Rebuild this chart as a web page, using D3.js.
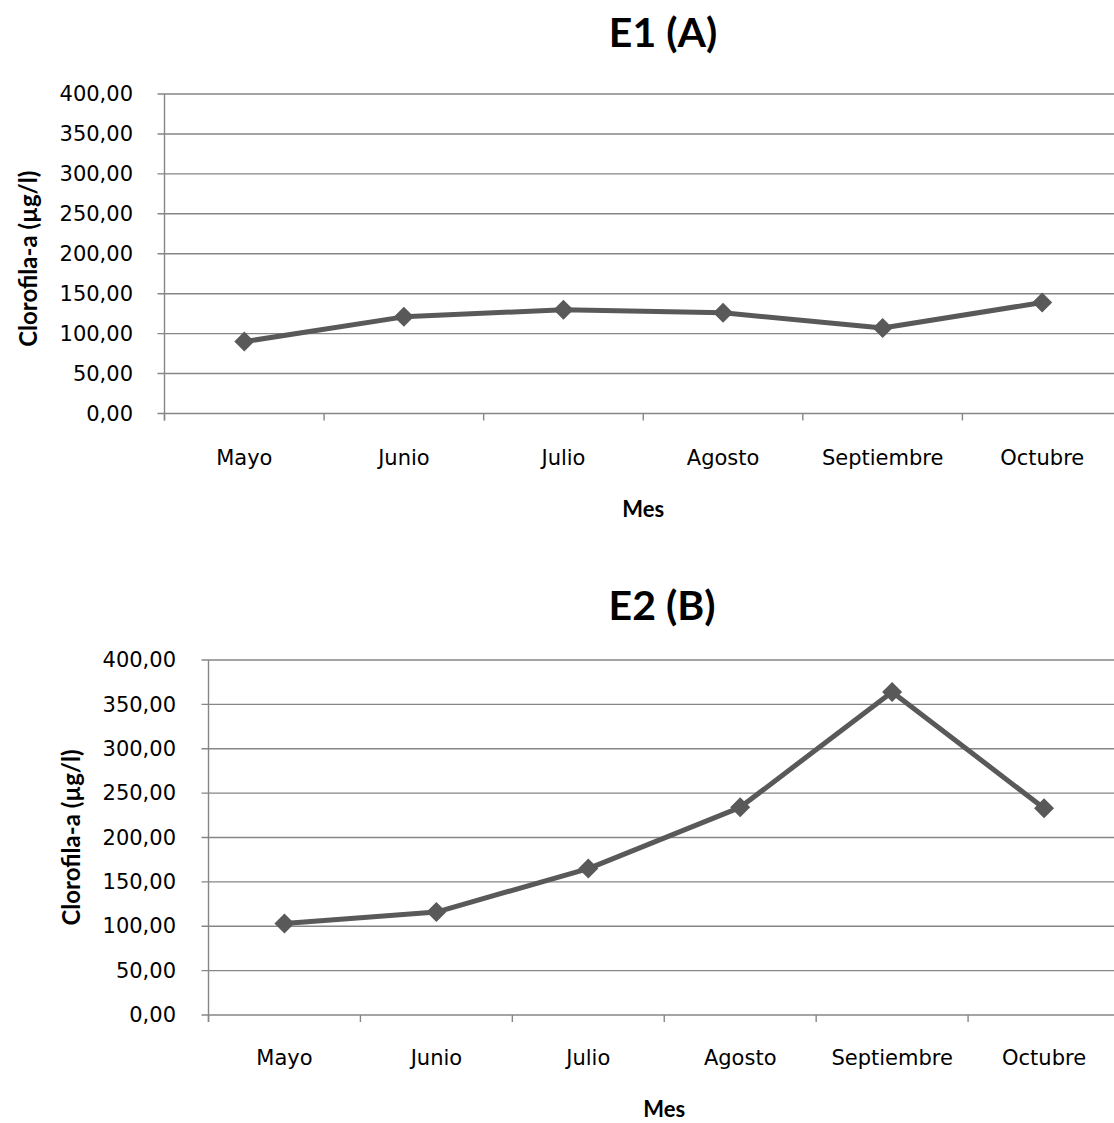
<!DOCTYPE html>
<html><head><meta charset="utf-8">
<script src="https://cdn.jsdelivr.net/npm/d3@7"></script>
<style>
html,body{margin:0;padding:0;background:#fff;}
svg{display:block;font-family:Lato,"Open Sans",sans-serif;}
</style></head>
<body>
<svg id="c" width="1114" height="1123"></svg>
<script>
const months = ["Mayo","Junio","Julio","Agosto","Septiembre","Octubre"];
const e1Values = [90, 121, 130, 126, 107, 139];
const e2Values = [103, 116, 165, 234, 364, 233];
const yTicks = [0, 50, 100, 150, 200, 250, 300, 350, 400];
const titles = ["E1 (A)", "E2 (B)"];
const yLabel = "Clorofila-a (µg/l)";
const xLabel = "Mes";

const svg = d3.select("#c");
const fmt = v => d3.format(".2f")(v).replace(".", ",");
const tickFont = "'DejaVu Sans', sans-serif";

function drawChart(cfg, values, title) {
  const g = svg.append("g");
  const x = d3.scaleBand().domain(months).range([cfg.left, cfg.right]);
  const y = d3.scaleLinear().domain([0, 400]).range([cfg.bottom, cfg.top]);

  // gridlines
  g.append("g").selectAll("line").data(yTicks).join("line")
    .attr("x1", cfg.left - 7).attr("x2", cfg.right)
    .attr("y1", d => y(d)).attr("y2", d => y(d))
    .attr("stroke", "#868686").attr("stroke-width", 1.4);

  // y axis labels
  const ya = d3.axisLeft(y).tickValues(yTicks).tickFormat(fmt).tickSize(0).tickPadding(0);
  const yg = g.append("g").attr("transform", `translate(${cfg.labelRight},0)`).call(ya);
  yg.select(".domain").remove();
  yg.selectAll("text").attr("font-size", 21).attr("fill", "#000").attr("font-family", tickFont);

  // y axis line
  g.append("line").attr("x1", cfg.left).attr("x2", cfg.left)
    .attr("y1", cfg.top).attr("y2", cfg.bottom + 7)
    .attr("stroke", "#868686").attr("stroke-width", 1.4);

  // x axis ticks at band boundaries
  const bounds = months.map(m => x(m)).concat([cfg.right]);
  g.append("g").selectAll("line").data(bounds).join("line")
    .attr("x1", d => d).attr("x2", d => d)
    .attr("y1", cfg.bottom).attr("y2", cfg.bottom + 7)
    .attr("stroke", "#868686").attr("stroke-width", 1.4);

  // x labels
  const xa = d3.axisBottom(x).tickSize(0).tickPadding(0);
  const xg = g.append("g").attr("transform", `translate(0,${cfg.xLabelY})`).call(xa);
  xg.select(".domain").remove();
  xg.selectAll("text").attr("font-size", 21).attr("fill", "#000").attr("dy", "0").attr("font-family", tickFont);

  // line
  const line = d3.line().x((d, i) => x(months[i]) + x.bandwidth() / 2).y(d => y(d));
  g.append("path").datum(values).attr("d", line)
    .attr("fill", "none").attr("stroke", "#595959").attr("stroke-width", 5)
    .attr("stroke-linejoin", "round");

  // markers
  g.append("g").selectAll("path").data(values).join("path")
    .attr("transform", (d, i) => `translate(${x(months[i]) + x.bandwidth() / 2},${y(d)}) rotate(45)`)
    .attr("d", d3.symbol().type(d3.symbolSquare).size(cfg.markerSize))
    .attr("fill", "#595959");

  // title
  g.append("text").attr("x", cfg.titleX).attr("y", cfg.titleY).attr("text-anchor", "middle")
    .attr("font-size", 41).attr("font-weight", "bold").attr("fill", "#000").text(title);

  // axis titles
  g.append("text").attr("transform", `translate(${cfg.yTitleX},${(cfg.top + cfg.bottom) / 2 + cfg.yTitleShift}) rotate(-90)`)
    .attr("text-anchor", "middle").attr("font-size", 24).attr("font-weight", "bold").attr("fill", "#000").text(yLabel);
  g.append("text").attr("x", (cfg.left + cfg.right) / 2 + cfg.xTitleShift).attr("y", cfg.xTitleY).attr("text-anchor", "middle")
    .attr("font-size", 22).attr("font-weight", "bold").attr("fill", "#000").text(xLabel);
}

drawChart({left: 164.5, right: 1122, top: 94, bottom: 413.5, labelRight: 133, xLabelY: 465,
  titleX: 663, titleY: 47, yTitleX: 37, yTitleShift: 5, xTitleY: 517, xTitleShift: 0, markerSize: 200}, e1Values, titles[0]);
drawChart({left: 208.5, right: 1120, top: 660, bottom: 1015, labelRight: 176, xLabelY: 1065,
  titleX: 662, titleY: 620, yTitleX: 80, yTitleShift: 0, xTitleY: 1117, xTitleShift: 0, markerSize: 200}, e2Values, titles[1]);
</script>
</body></html>
